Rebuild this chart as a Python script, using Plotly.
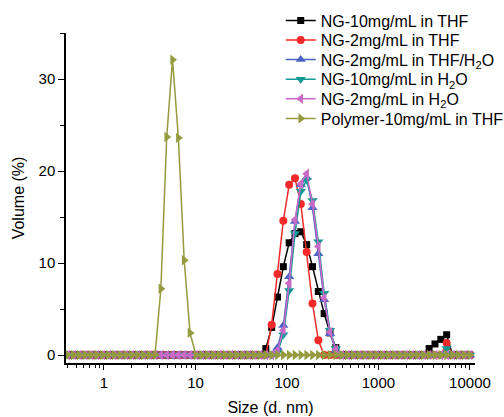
import plotly.graph_objects as go

# Malvern DLS size bins (d. nm)
sizes = [0.4, 0.4632, 0.5365, 0.6213, 0.7195, 0.8332, 0.9649, 1.117, 1.294, 1.499,
         1.736, 2.010, 2.328, 2.696, 3.122, 3.615, 4.187, 4.849, 5.615, 6.503,
         7.531, 8.721, 10.10, 11.70, 13.54, 15.69, 18.17, 21.04, 24.36, 28.21,
         32.67, 37.84, 43.82, 50.75, 58.77, 68.06, 78.82, 91.28, 105.7, 122.4,
         141.8, 164.2, 190.1, 220.2, 255.0, 295.3, 342.0, 396.1, 458.7, 531.2,
         615.1, 712.4, 825.0, 955.4, 1106, 1281, 1484, 1718, 1990, 2305,
         2669, 3091, 3580, 4145, 4801, 5560, 6439, 7456, 8635, 10000]

ng10_thf = [0, 0, 0, 0, 0, 0, 0, 0, 0, 0,
            0, 0, 0, 0, 0, 0, 0, 0, 0, 0,
            0, 0, 0, 0, 0, 0, 0, 0, 0, 0,
            0, 0, 0, 0, 0.7, 3.0, 6.3, 9.6, 12.2, 13.2,
            13.4, 12.0, 9.6, 6.9, 4.5, 2.4, 0.8, 0, 0, 0,
            0, 0, 0, 0, 0, 0, 0, 0, 0, 0,
            0, 0, 0.7, 1.2, 1.7, 2.2, 0, 0, 0, 0]

ng2_thf = [0, 0, 0, 0, 0, 0, 0, 0, 0, 0,
           0, 0, 0, 0, 0, 0, 0, 0, 0, 0,
           0, 0, 0, 0, 0, 0, 0, 0, 0, 0,
           0, 0, 0, 0, 0, 3.3, 8.8, 14.6, 18.5, 19.2,
           16.4, 11.2, 5.6, 1.6, 0, 0, 0, 0, 0, 0,
           0, 0, 0, 0, 0, 0, 0, 0, 0, 0,
           0, 0, 0, 0, 0, 1.3, 0, 0, 0, 0]

ng2_thf_h2o = [0, 0, 0, 0, 0, 0, 0, 0, 0, 0,
               0, 0, 0, 0, 0, 0, 0, 0, 0, 0,
               0, 0, 0, 0, 0, 0, 0, 0, 0, 0,
               0, 0, 0, 0, 0, 0, 0.8, 3.2, 8.5, 14.5,
               18.5, 19.3, 16.0, 11.0, 6.0, 2.3, 0.5, 0, 0, 0,
               0, 0, 0, 0, 0, 0, 0, 0, 0, 0,
               0, 0, 0, 0, 0, 0, 0, 0, 0, 0]

ng10_h2o = [0, 0, 0, 0, 0, 0, 0, 0, 0, 0,
            0, 0, 0, 0, 0, 0, 0, 0, 0, 0,
            0, 0, 0, 0, 0, 0, 0, 0, 0, 0,
            0, 0, 0, 0, 0, 0, 0.3, 2.2, 7.0, 13.2,
            17.8, 19.0, 16.8, 12.3, 6.7, 2.7, 0.7, 0, 0, 0,
            0, 0, 0, 0, 0, 0, 0, 0, 0, 0,
            0, 0, 0, 0, 0, 0.7, 0, 0, 0, 0]

ng2_h2o = [0, 0, 0, 0, 0, 0, 0, 0, 0, 0,
           0, 0, 0, 0, 0, 0, 0, 0, 0, 0,
           0, 0, 0, 0, 0, 0, 0, 0, 0, 0,
           0, 0, 0, 0, 0, 0, 0.5, 2.7, 7.8, 14.7,
           18.6, 19.7, 16.4, 11.8, 6.2, 2.5, 0.6, 0, 0, 0,
           0, 0, 0, 0, 0, 0, 0, 0, 0, 0,
           0, 0, 0, 0, 0, 0, 0, 0, 0, 0]

polymer10_thf = [0, 0, 0, 0, 0, 0, 0, 0, 0, 0,
                 0, 0, 0, 0, 0, 0, 7.2, 23.7, 32.1, 23.6,
                 10.3, 2.4, 0, 0, 0, 0, 0, 0, 0, 0,
                 0, 0, 0, 0, 0, 0, 0, 0, 0, 0,
                 0, 0, 0, 0, 0, 0, 0, 0, 0, 0,
                 0, 0, 0, 0, 0, 0, 0, 0, 0, 0,
                 0, 0, 0, 0, 0, 0, 0, 0, 0, 0]

series_names = ["NG-10mg/mL in THF", "NG-2mg/mL in THF", "NG-2mg/mL in THF/H<sub>2</sub>O",
                "NG-10mg/mL in H<sub>2</sub>O", "NG-2mg/mL in H<sub>2</sub>O", "Polymer-10mg/mL in THF"]
series_values = [ng10_thf, ng2_thf, ng2_thf_h2o, ng10_h2o, ng2_h2o, polymer10_thf]
colors = ["#000000", "#f42a2a", "#4a63c4", "#139a94", "#c86ac6", "#959a3e"]
symbols = ["square", "circle", "triangle-up", "triangle-down", "triangle-left", "triangle-right"]
msizes = [7, 8, 9, 9, 9, 9]

x_tickvals = [1, 10, 100, 1000, 10000]
x_ticktext = ["1", "10", "100", "1000", "10000"]
y_tickvals = [0, 10, 20, 30]

FONT = "Arial, Liberation Sans, sans-serif"

# layout geometry
ML, MR, MT, MB = 66, 29, 33, 54
W, H = 504, 417
plot_h = H - MT - MB

fig = go.Figure()
legend_layouts = {}
for i, (name, vals, c, s, ms) in enumerate(zip(series_names, series_values, colors, symbols, msizes)):
    key = "legend" if i == 0 else f"legend{i + 1}"
    fig.add_trace(go.Scatter(
        x=sizes, y=vals, name=name, mode="lines+markers",
        line=dict(color=c, width=1.5),
        marker=dict(symbol=s, size=ms, color=c, line=dict(width=0)),
        legend=key,
    ))
    row_center_px = 20.5 + 19.6 * i
    legend_layouts[key] = dict(
        x=0.525, y=(H - MB - row_center_px) / plot_h, xanchor="left", yanchor="middle",
        font=dict(size=16, family=FONT), bgcolor="rgba(0,0,0,0)", borderwidth=0,
    )

minor_x = []
for dec in [0.1, 1, 10, 100, 1000]:
    for k in range(2, 10):
        v = k * dec
        if 0.38 <= v <= 11000:
            minor_x.append(v)

fig.update_layout(
    width=W, height=H,
    margin=dict(l=ML, r=MR, t=MT, b=MB, autoexpand=False),
    paper_bgcolor="white", plot_bgcolor="white",
    font=dict(family=FONT, size=15, color="black"),
    showlegend=True,
    xaxis=dict(type="log", range=[-0.415, 4.055],
               tickmode="array", tickvals=x_tickvals, ticktext=x_ticktext,
               ticks="outside", ticklen=5, tickwidth=1.3, tickcolor="black",
               showline=True, linecolor="black", linewidth=1.5,
               showgrid=False, zeroline=False,
               minor=dict(tickmode="array", tickvals=minor_x, ticks="outside",
                          ticklen=3, tickwidth=1, tickcolor="black", showgrid=False),
               title=dict(text="Size (d. nm)", font=dict(size=16), standoff=12),
               tickfont=dict(size=15)),
    yaxis=dict(range=[-0.87, 35.0],
               tickmode="array", tickvals=y_tickvals,
               ticks="outside", ticklen=6, tickwidth=1.3, tickcolor="black",
               showline=True, linecolor="black", linewidth=1.5,
               showgrid=False, zeroline=False,
               minor=dict(tickmode="array", tickvals=[5, 15, 25, 35], ticks="outside",
                          ticklen=4, tickwidth=1, tickcolor="black", showgrid=False),
               title=dict(text="Volume (%)", font=dict(size=16), standoff=10),
               tickfont=dict(size=15)),
    **legend_layouts,
)

fig.write_html("out.html", config={"displayModeBar": False},
               post_script="document.body.style.margin='0';document.body.style.padding='0';")
